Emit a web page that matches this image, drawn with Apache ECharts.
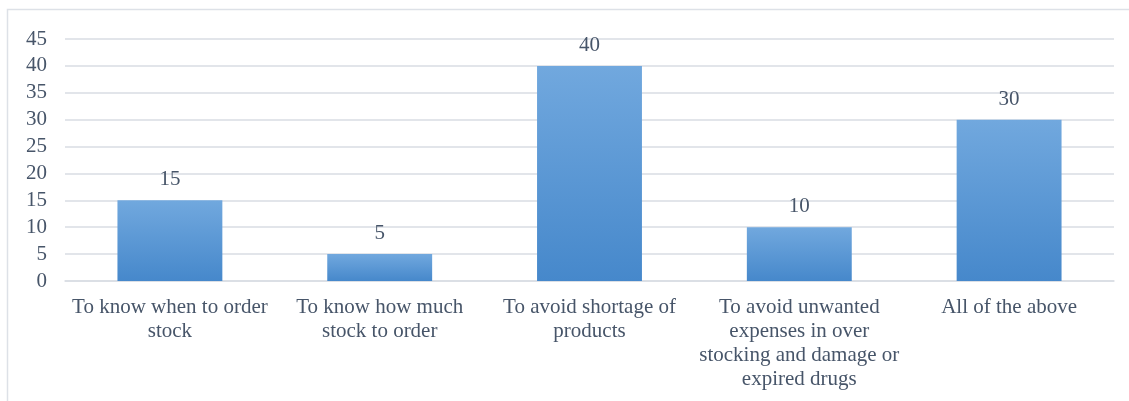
<!DOCTYPE html>
<html>
<head>
<meta charset="utf-8">
<script src="https://cdn.jsdelivr.net/npm/echarts@6/dist/echarts.min.js"></script>
<style>
  html, body { margin: 0; padding: 0; background: #fff; }
  #chart { width: 1129px; height: 401px; }
</style>
</head>
<body>
<div id="chart"></div>
<script>
// Reasons for inventory management (responses, %)
const categories = [
  'To know when to order\nstock',
  'To know how much\nstock to order',
  'To avoid shortage of\nproducts',
  'To avoid unwanted\nexpenses in over\nstocking and damage or\nexpired drugs',
  'All of the above'
];
const values = [15, 5, 40, 10, 30];
const yTicks = { min: 0, max: 45, interval: 5 };

const textColor = '#475569';
const fontFamily = '"Liberation Serif", "Times New Roman", serif';

const chart = echarts.init(document.getElementById('chart'));
chart.setOption({
  animation: false,
  backgroundColor: '#ffffff',
  graphic: [{
    type: 'rect',
    shape: { x: 7.5, y: 9.5, width: 1140, height: 420 },
    style: { fill: 'none', stroke: '#dde1e7', lineWidth: 1.5 },
    silent: true
  }],
  grid: { left: 65, right: 15, top: 39, bottom: 120 },
  xAxis: {
    type: 'category',
    data: categories,
    axisLine: { show: true, lineStyle: { color: '#d9dde3', width: 1.5 } },
    axisTick: { show: false },
    axisLabel: {
      interval: 0,
      color: textColor,
      fontFamily: fontFamily,
      fontSize: 21,
      lineHeight: 24,
      margin: 14
    }
  },
  yAxis: {
    type: 'value',
    min: yTicks.min,
    max: yTicks.max,
    interval: yTicks.interval,
    axisLine: { show: false },
    axisTick: { show: false },
    splitLine: { lineStyle: { color: '#d9dde3', width: 1.5 } },
    axisLabel: {
      color: textColor,
      fontFamily: fontFamily,
      fontSize: 21,
      margin: 18
    }
  },
  series: [{
    type: 'bar',
    data: values,
    barWidth: '50%',
    itemStyle: {
      color: new echarts.graphic.LinearGradient(0, 0, 0, 1, [
        { offset: 0, color: '#71a8de' },
        { offset: 1, color: '#4688cb' }
      ])
    },
    label: {
      show: true,
      position: 'top',
      distance: 10,
      color: textColor,
      fontFamily: fontFamily,
      fontSize: 21
    }
  }]
});
</script>
</body>
</html>
